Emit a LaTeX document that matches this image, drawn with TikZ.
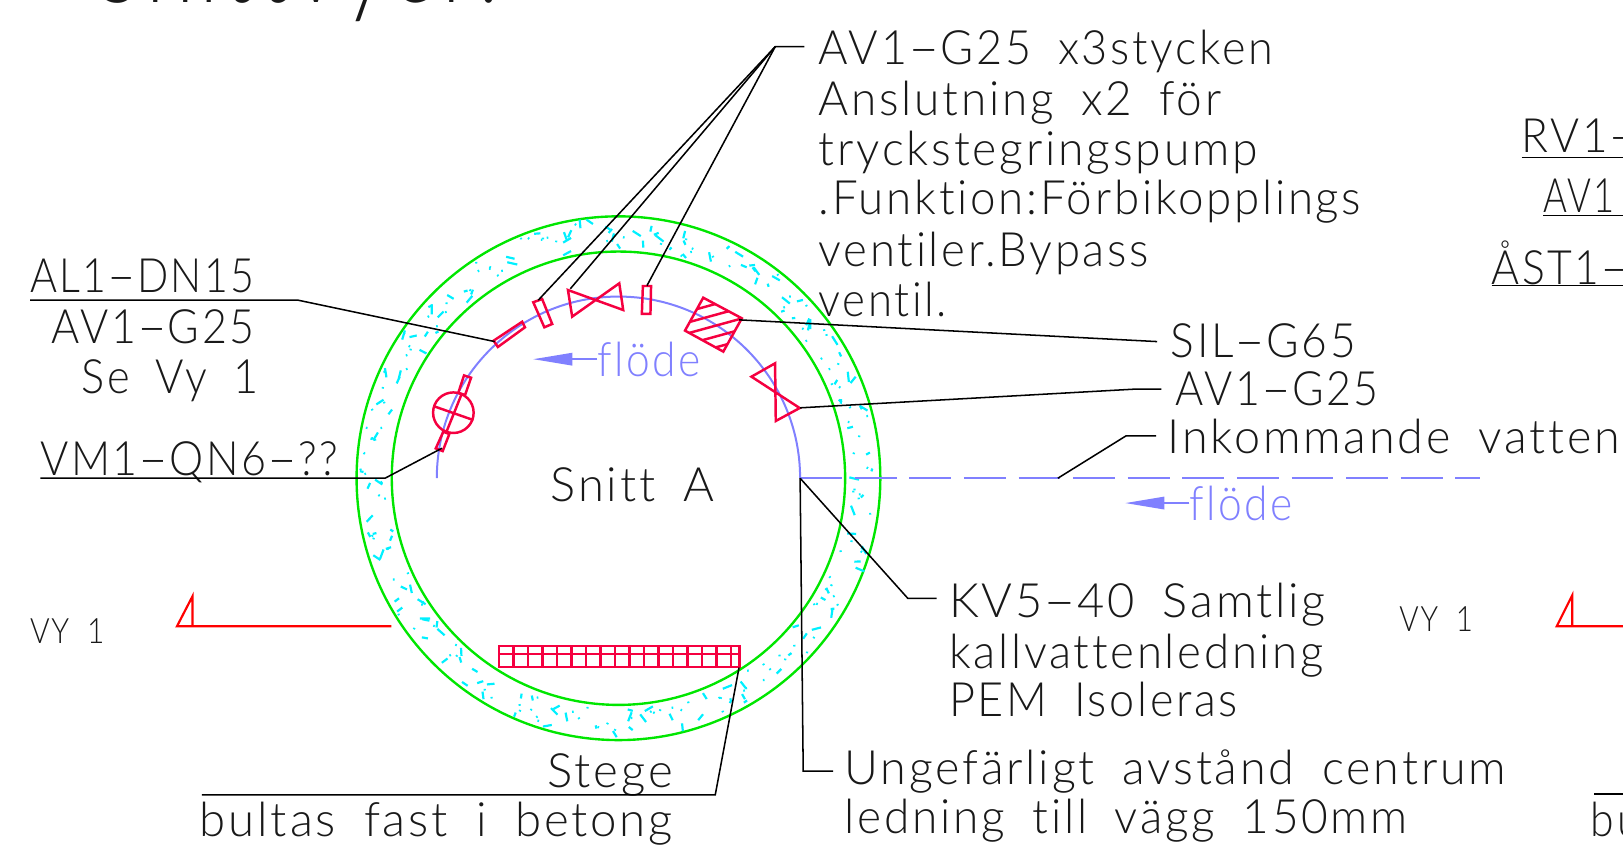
\documentclass[tikz,border=0pt]{standalone}
\usepackage{graphicx}
\usepackage{fontspec}
\setmainfont{Lato}[UprightFont=* Light,Ligatures={TeX,NoCommon},LetterSpace=6,WordSpace=1.8]
\usetikzlibrary{calc,arrows,arrows.meta}
\definecolor{crim}{RGB}{245,0,64}
\definecolor{grn}{RGB}{0,230,0}
\definecolor{flow}{RGB}{128,128,255}
\definecolor{ink}{RGB}{25,25,25}
\definecolor{speck}{RGB}{0,240,255}
\newdimen\cadunit
\cadunit=0.01cm
\newcommand{\hy}{\scalebox{2}[1]{-}}
\newcommand{\fitw}[2]{\resizebox{#1\cadunit}{\height}{#2}}
\tikzset{
    cad/.style={anchor=base west,inner sep=0pt,outer sep=0pt,text=ink,yshift=-0.005cm,font=\fontsize{13}{14}\selectfont},
    cadsmall/.style={cad,font=\fontsize{9.6}{11}\selectfont},
    cadflow/.style={cad,text=flow},
    leader/.style={draw=black,line width=0.42pt},
    valve/.style={draw=crim,line width=0.68pt,line join=miter},
    wall/.style={draw=grn,line width=0.65pt},
    pipe/.style={draw=flow,line width=0.55pt},
    flowtip/.style={-{Triangle[length=0.38cm,width=0.12cm]},draw=flow,fill=flow,line width=0.5pt},
}

\begin{document}
\begin{tikzpicture}[x=0.01cm,y=-0.01cm]
    \useasboundingbox (0,0) rectangle (1568,817);

    % title, cut by the page
    \node[cad,font=\fontsize{30}{31}\selectfont] (title) at (92,2) {\fitw{390}{Snittvyer:}};

    % Draw wall.
    \draw[wall] (597.5,462) circle (253);
    \draw[wall] (597.5,462) circle (219);

    % concrete
    \pgfmathsetseed{4711}
    \foreach \i in {1,...,270}
    {
        \pgfmathsetmacro{\AA}{mod(\i*13.75,36)*10+rnd*12}
        \pgfmathsetmacro{\RR}{223+rnd*27}
        \pgfmathsetmacro{\DD}{rnd*180}
        \pgfmathsetmacro{\BB}{rnd}
        \ifdim\BB pt<0.5pt
            \pgfmathsetmacro{\LL}{0.8}
        \else
            \pgfmathsetmacro{\LL}{1.5+rnd*3.5}
        \fi
        \draw[speck,line width=0.6pt] ($(597.5,462)+(\AA:\RR)+(\DD:\LL)$) -- ($(597.5,462)+(\AA:\RR)-(\DD:\LL)$);
    }

    % pipe
    \draw[pipe] (422,462) arc[start angle=180,end angle=360,radius=175.5];
    \coordinate (inlet) at (773,462);
    \coordinate (pipeend) at (1430,462);
    \draw[pipe,dash pattern=on 11.5pt off 3.5pt] (inlet) -- (pipeend);

    % fittings
    \draw[valve] (476.9,329.1) -- (504.5,310.8) -- (507.2,316.2) -- (481,335.2) -- cycle;
    \draw[valve] (515.2,292) -- (523.8,288.9) -- (533.5,313) -- (525.9,316.2) -- cycle;
    \draw[valve] (548.7,280.2) -- (602.1,299.5) -- (598.3,273.7) -- (552.8,305.9) -- cycle;
    \draw[valve] (621.1,276.3) -- (629,276.3) -- (628.4,303.3) -- (620.1,303.3) -- cycle;
    \draw[valve] (726,363.9) -- (772.6,394.2) -- (749.5,406.7) -- (748.8,351) -- cycle;

    % filter
    \begin{scope}
        \clip (679.4,287.6) -- (716.7,307.5) -- (698.8,339.7) -- (661.8,319.4) -- cycle;
        \foreach \y in {294,304.5,315,325.5,336}
        {
            \draw[valve] (650,\y+11) -- (730,\y-11);
        }
    \end{scope}
    \draw[valve] (679.4,287.6) -- (716.7,307.5) -- (698.8,339.7) -- (661.8,319.4) -- cycle;

    % water meter
    \draw[valve] (438,398.7) circle (19.6);
    \draw[valve] (418.7,392.3) -- (457.3,405.8);
    \draw[valve] (446,380.7) -- (431,418);
    \draw[valve] (448.3,362.7) -- (455.1,364.9) -- (449.3,381.7) -- (442.8,379.4) -- cycle;
    \draw[valve] (428.3,417.1) -- (434.1,419.3) -- (427.7,435.8) -- (421,433.2) -- cycle;

    % ladder
    \draw[valve] (482,624) rectangle (714.3,644.2);
    \draw[valve] (482,632) -- (714.3,632);
    \foreach \k in {1,...,16}
    {
        \draw[valve] (482+14*\k,624) -- (482+14*\k,644.2);
    }

    % view marks
    \draw[red,line width=0.6pt] (378,605) -- (171,605) -- (186,576) -- (186,605);
    \draw[red,line width=0.6pt] (1568,605) -- (1504,605) -- (1519,575) -- (1519,605);

    % flow arrows
    \node[cadflow] (flowa) at (577,363) {\fitw{100}{flöde}};
    \node[cadflow] (flowb) at (1149,502) {\fitw{100}{flöde}};
    \coordinate (flowatip) at (515,347);
    \coordinate (flowbtip) at (1087,486);
    \draw[flowtip] (flowa.west |- flowatip) -- (flowatip);
    \draw[flowtip] (flowb.west |- flowbtip) -- (flowbtip);

    % texts
    \node[cad] (bypass1) at (791,62) {\fitw{439}{AV1\hy G25 x3stycken}};
    \node[cad] (bypass2) at (791,111) {\fitw{389}{Anslutning x2 för}};
    \node[cad] (bypass3) at (791,159) {\fitw{424}{tryckstegringspump}};
    \node[cad] (bypass4) at (791,207) {\fitw{524}{.Funktion:Förbikopplings}};
    \node[cad] (bypass5) at (791,257) {\fitw{319}{ventiler.Bypass}};
    \node[cad] (bypass6) at (791,305) {\fitw{124}{ventil.}};
    \node[cad] (sil) at (1131,345) {\fitw{179}{SIL\hy G65}};
    \node[cad] (valveb) at (1136,391) {\fitw{196}{AV1\hy G25}};
    \node[cad] (inwater) at (1128,438) {\fitw{437}{Inkommande vatten}};
    \node[cad] (section) at (532,484) {\fitw{158}{Snitt A}};
    \node[cad] (air) at (29,282) {\fitw{217}{AL1\hy DN15}};
    \node[cad] (valvea) at (50,331) {\fitw{196}{AV1\hy G25}};
    \node[cad] (seeview) at (79,380) {\fitw{171}{Se Vy 1}};
    \node[cad] (meter) at (39,459) {\fitw{288}{VM1\hy QN6\hy ??}};
    \node[cadsmall] (viewa) at (29,621) {\fitw{72}{VY 1}};
    \node[cadsmall] (viewb) at (1352,610) {\fitw{71}{VY 1}};
    \node[cad] (cold1) at (917,596) {\fitw{364}{KV5\hy 40 Samtlig}};
    \node[cad] (cold2) at (917,645) {\fitw{362}{kallvattenledning}};
    \node[cad] (cold3) at (917,692) {\fitw{279}{PEM Isoleras}};
    \node[cad] (ladder1) at (529,760) {\fitw{121}{Stege}};
    \node[cad] (ladder2) at (193,808) {\fitw{457}{bultas fast i betong}};
    \node[cad] (dist1) at (816,757) {\fitw{639}{Ungefärligt avstånd centrum}};
    \node[cad] (dist2) at (816,805) {\fitw{544}{ledning till vägg 150mm}};
    \node[cad] (rvalve) at (1470,147) {\fitw{115}{RV1\hy}};
    \node[cad] (rvalveb) at (1491,205) {\fitw{69}{AV1}};
    \node[cad] (ast) at (1441,274) {\fitw{135}{ÅST1\hy}};
    \node[cad] (bolt) at (1537,808) {\fitw{48}{bu}};

    % leaders
    \coordinate (fork) at (749,45);
    \coordinate (forkend) at (777,45);
    \coordinate (tee1) at (520,290);
    \coordinate (tee2) at (551,279);
    \coordinate (tee3) at (625,276);
    \draw[leader] (forkend) -- (fork) -- (tee1);
    \draw[leader] (fork) -- (tee2);
    \draw[leader] (fork) -- (tee3);

    \coordinate (airend) at (29,290);
    \coordinate (airbend) at (288,290);
    \coordinate (airvalve) at (478,330);
    \draw[leader] (airend) -- (airbend) -- (airvalve);

    \coordinate (siltip) at (714,309);
    \coordinate (silend) at (1118,330);
    \draw[leader] (siltip) -- (silend);

    \coordinate (valvetip) at (773,394);
    \coordinate (valvebend) at (1095,376);
    \coordinate (valveend) at (1122,376);
    \draw[leader] (valvetip) -- (valvebend) -- (valveend);

    \coordinate (meterend) at (39,462);
    \coordinate (meterbend) at (372,462);
    \coordinate (metertip) at (427,433);
    \draw[leader] (meterend) -- (meterbend) -- (metertip);

    \coordinate (intip) at (1022,462);
    \coordinate (inbend) at (1088,421);
    \coordinate (inend) at (1117,421);
    \draw[leader] (intip) -- (inbend) -- (inend);

    \coordinate (coldbend) at (877,578);
    \coordinate (coldend) at (905,578);
    \draw[leader] (inlet) -- (coldbend) -- (coldend);

    \coordinate (distbend) at (776,745);
    \coordinate (distend) at (805,745);
    \draw[leader] (inlet) -- (distbend) -- (distend);

    \coordinate (ladderend) at (195,768);
    \coordinate (ladderbend) at (691,768);
    \coordinate (laddertip) at (714,645);
    \draw[leader] (ladderend) -- (ladderbend) -- (laddertip);

    % underlines at the cut edge
    \coordinate (rvalvestart) at (1470,152);
    \coordinate (rvalveend) at (1568,152);
    \coordinate (avstart) at (1491,208);
    \coordinate (avend) at (1568,208);
    \coordinate (aststart) at (1441,276);
    \coordinate (astend) at (1568,276);
    \coordinate (boltstart) at (1540,767);
    \coordinate (boltend) at (1568,767);
    \draw[leader] (rvalvestart) -- (rvalveend);
    \draw[leader] (avstart) -- (avend);
    \draw[leader] (aststart) -- (astend);
    \draw[leader] (boltstart) -- (boltend);

\end{tikzpicture}
\end{document}
